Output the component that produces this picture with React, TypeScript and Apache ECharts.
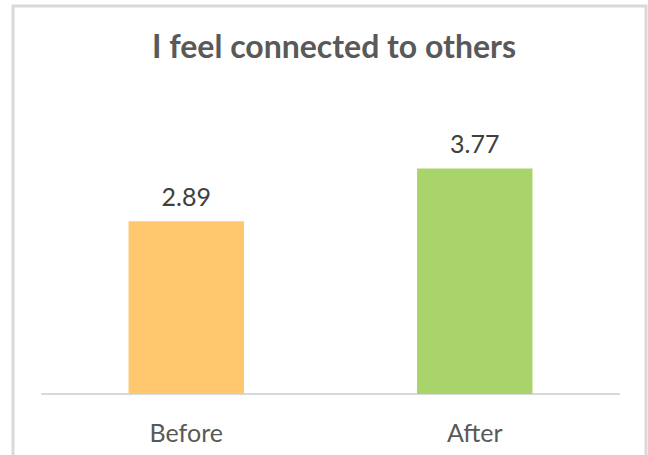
import React, { useEffect, useRef } from "react";
import * as echarts from "echarts";

const title = "I feel connected to others";
const categories = ["Before", "After"];
const values = [2.89, 3.77];
const barColors = ["#FFC76E", "#A9D46B"];

export default function App() {
  const ref = useRef<HTMLDivElement>(null);
  useEffect(() => {
    document.body.style.margin = "0";
    const chart = echarts.init(ref.current!, null, { renderer: "svg" });
    chart.setOption({
      animation: false,
      backgroundColor: "#ffffff",
      title: {
        text: title,
        left: 329,
        textAlign: "center",
        top: 24,
        textStyle: {
          fontFamily: "Lato",
          fontWeight: "bold",
          fontSize: 32,
          color: "#595959",
        },
      },
      graphic: [
        {
          type: "rect",
          shape: { x: 13, y: 6, width: 633, height: 460 },
          style: { fill: "none", stroke: "#D9D9D9", lineWidth: 3 },
          silent: true,
        },
      ],
      grid: { left: 42, right: 29, top: 95, bottom: 61, containLabel: false },
      xAxis: {
        type: "category",
        data: categories,
        axisLine: { show: true, lineStyle: { color: "#D9D9D9", width: 2 } },
        axisTick: { show: false },
        axisLabel: {
          fontFamily: "Lato",
          fontSize: 25,
          color: "#595959",
          margin: 25,
        },
      },
      yAxis: {
        type: "value",
        min: 0,
        max: 5,
        show: false,
        splitLine: { show: false },
      },
      series: [
        {
          type: "bar",
          barWidth: "40%",
          data: values.map((v, i) => ({ value: v, itemStyle: { color: barColors[i] } })),
          label: {
            show: true,
            position: "top",
            distance: 13,
            fontFamily: "Lato",
            fontSize: 25,
            color: "#404040",
            formatter: (p: any) => p.value.toFixed(2),
          },
        },
      ],
    });
    return () => chart.dispose();
  }, []);
  return <div ref={ref} style={{ width: 648, height: 455 }} />;
}
